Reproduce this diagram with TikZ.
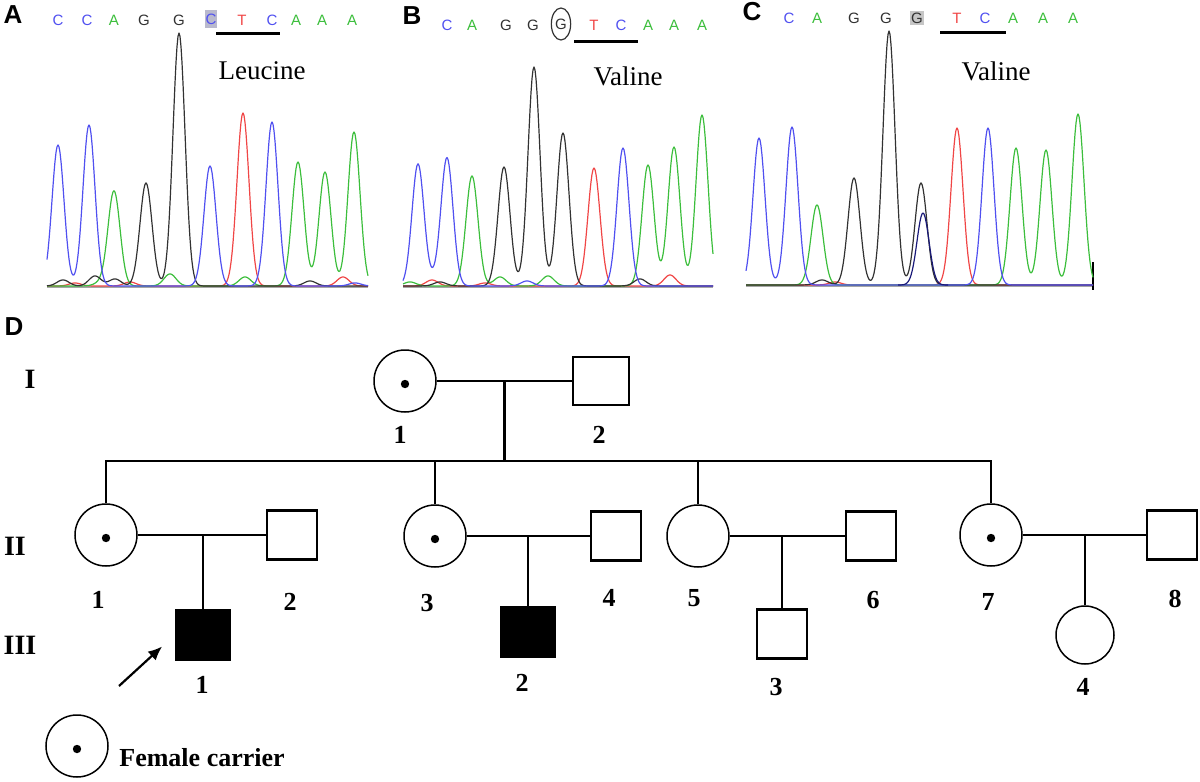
\documentclass[tikz,border=0pt]{standalone}
\usepackage{fontspec}
\setmainfont{Liberation Serif}
\newfontfamily\arialfont{Liberation Sans}
\usetikzlibrary{calc,shapes.geometric,arrows.meta}

\definecolor{seqblue}{RGB}{80,80,240}
\definecolor{seqgreen}{RGB}{60,190,60}
\definecolor{seqred}{RGB}{240,70,70}
\definecolor{seqblack}{RGB}{50,50,50}
\definecolor{seqnavy}{RGB}{25,25,120}
\definecolor{boxgrey}{RGB}{185,185,205}

\tikzset{
  declare function={pk(\p,\c,\h)=\h*exp(-min(((\p-\c)/8.5)^2,9));},
  male/.style={draw, rectangle, line width=1.35pt, inner sep=0pt, minimum width=25pt, minimum height=24.5pt},
  affected/.style={male, fill=black, minimum width=27pt},
  female/.style={draw, circle, line width=0.75pt, inner sep=0pt, minimum size=31pt},
  carrier/.style={female, path picture={\fill ([yshift=-1.5pt]path picture bounding box.center) circle (2.1pt);}},
  line/.style={line width=1.35pt},
  num/.style={font=\fontsize{13}{13}\selectfont\bfseries, inner sep=0pt},
  gen/.style={font=\fontsize{14}{14}\selectfont\bfseries, inner sep=0pt},
  panel/.style={font=\arialfont\fontsize{13}{13}\selectfont\bfseries, inner sep=0pt},
  base/.style={font=\arialfont\fontsize{7.5}{7.5}\selectfont, inner sep=0.5pt},
  amino/.style={font=\fontsize{13.5}{13.5}\selectfont, inner sep=0pt},
  trace/.style={line width=0.6pt, line join=round},
  axis/.style={gray!70, line width=0.8pt},
}

\begin{document}
\begin{tikzpicture}[x=0.5pt, y=-0.5pt]

\useasboundingbox (0,0) rectangle (1200,782);

\node[panel] (pA) at (13,15) {A};
\node[panel] (pB) at (412,16) {B};
\node[panel] (pC) at (752,12) {C};
\node[panel] (pD) at (14,327) {D};

\foreach \px/\b/\c [count=\k] in {58/C/seqblue, 87/C/seqblue, 114/A/seqgreen, 144/G/seqblack, 179/G/seqblack,
    242/T/seqred, 272/C/seqblue, 296/A/seqgreen, 322/A/seqgreen, 352/A/seqgreen}
  \node[base, text=\c] (seqa-\k) at (\px,20) {\b};
\node[base, text=seqblue, fill=boxgrey, minimum height=9pt] (seqa-mut) at (211,19) {C};

\foreach \px/\b/\c [count=\k] in {447/C/seqblue, 472/A/seqgreen, 506/G/seqblack, 533/G/seqblack,
    594/T/seqred, 621/C/seqblue, 648/A/seqgreen, 674/A/seqgreen, 702/A/seqgreen}
  \node[base, text=\c] (seqb-\k) at (\px,25) {\b};
\node[base, text=seqblack, draw=seqblack, ellipse, line width=0.6pt, minimum width=8.5pt, minimum height=16pt] (seqb-mut) at (561,24) {G};

\foreach \px/\b/\c [count=\k] in {789/C/seqblue, 817/A/seqgreen, 854/G/seqblack, 886/G/seqblack,
    957/T/seqred, 985/C/seqblue, 1013/A/seqgreen, 1043/A/seqgreen, 1073/A/seqgreen}
  \node[base, text=\c] (seqc-\k) at (\px,18) {\b};
\node[base, text=seqblack, fill=gray!45, minimum height=7pt] (seqc-mut) at (917,18) {G};

\draw[line width=1.5pt] (216,33) -- (280,33);
\draw[line width=1.5pt] (574,41) -- (638,41);
\draw[line width=1.5pt] (940,32) -- (1006,32);

\node[amino] (leu) at (262,71) {Leucine};
\node[amino] (valb) at (628,76) {Valine};
\node[amino] (valc) at (996,71) {Valine};

\draw[axis] (47,287) -- (368,287);
\draw[axis] (403,287) -- (713,287);
\draw[axis] (746,286) -- (1093,286);
\draw[line width=1pt] (1093,262) -- (1093,290);

\draw[trace, seqred] plot[domain=47:368, samples=322] (\x, {286-pk(\x,243,173)-pk(\x,343,9)-pk(\x,75,3)-pk(\x,130,4)});
\draw[trace, seqgreen] plot[domain=47:368, samples=322] (\x, {286-pk(\x,114,95)-pk(\x,298,124)-pk(\x,325,114)-pk(\x,354,154)-pk(\x,170,12)-pk(\x,245,9)-pk(\x,100,3)});
\draw[trace, seqblack] plot[domain=47:368, samples=322] (\x, {286-pk(\x,146,103)-pk(\x,179,253)-pk(\x,63,6)-pk(\x,95,10)-pk(\x,115,7)-pk(\x,310,5)});
\draw[trace, seqblue] plot[domain=47:368, samples=322] (\x, {286-pk(\x,58,141)-pk(\x,89,161)-pk(\x,210,120)-pk(\x,272,164)-pk(\x,355,3)});

\draw[trace, seqred] plot[domain=403:713, samples=311] (\x, {286-pk(\x,594,118)-pk(\x,432,6)-pk(\x,670,11)-pk(\x,485,3)});
\draw[trace, seqgreen] plot[domain=403:713, samples=311] (\x, {286-pk(\x,472,110)-pk(\x,648,121)-pk(\x,674,139)-pk(\x,702,171)-pk(\x,500,9)-pk(\x,548,10)-pk(\x,410,4)});
\draw[trace, seqblack] plot[domain=403:713, samples=311] (\x, {286-pk(\x,504,119)-pk(\x,534,219)-pk(\x,563,153)-pk(\x,640,7)-pk(\x,440,4)});
\draw[trace, seqblue] plot[domain=403:713, samples=311] (\x, {286-pk(\x,418,122)-pk(\x,447,128)-pk(\x,623,138)-pk(\x,527,5)-pk(\x,434,5)});

\draw[trace, seqred] plot[domain=746:1093, samples=348] (\x, {285-pk(\x,957,157)-pk(\x,835,3)});
\draw[trace, seqgreen] plot[domain=746:1093, samples=348] (\x, {285-pk(\x,817,80)-pk(\x,1016,137)-pk(\x,1046,135)-pk(\x,1078,171)});
\draw[trace, seqblack] plot[domain=746:1093, samples=348] (\x, {285-pk(\x,854,107)-pk(\x,889,254)-pk(\x,921,102)-pk(\x,822,5)});
\draw[trace, seqblue] plot[domain=746:1093, samples=348] (\x, {285-pk(\x,759,147)-pk(\x,792,158)-pk(\x,988,157)});
\draw[trace, seqnavy] plot[domain=898:948, samples=51] (\x, {285-pk(\x,923,72)});

\node[gen] (gI) at (30,379) {I};
\node[gen] (gII) at (15,546) {II};
\node[gen] (gIII) at (20,645) {III};

\node[carrier] (i1) at (405,381) {};
\node[male, minimum width=28pt, minimum height=24pt] (i2) at (601,381) {};
\node[carrier] (ii1) at (106,535) {};
\node[male] (ii2) at (292,535) {};
\node[carrier] (ii3) at (435,536) {};
\node[male] (ii4) at (616,536) {};
\node[female] (ii5) at (698,536) {};
\node[male] (ii6) at (871,536) {};
\node[carrier] (ii7) at (991,535) {};
\node[male] (ii8) at (1172,535) {};
\node[affected] (iii1) at (203,635) {};
\node[affected] (iii2) at (528,632) {};
\node[male] (iii3) at (782,634) {};
\node[female, minimum size=29pt] (iii4) at (1085,635) {};

\node[num] (l-i1) at (400,435) {1};
\node[num] (l-i2) at (599,435) {2};
\node[num] (l-ii1) at (98,600) {1};
\node[num] (l-ii2) at (290,602) {2};
\node[num] (l-ii3) at (427,603) {3};
\node[num] (l-ii4) at (609,598) {4};
\node[num] (l-ii5) at (694,598) {5};
\node[num] (l-ii6) at (873,600) {6};
\node[num] (l-ii7) at (988,602) {7};
\node[num] (l-ii8) at (1175,599) {8};
\node[num] (l-iii1) at (202,685) {1};
\node[num] (l-iii2) at (522,683) {2};
\node[num] (l-iii3) at (776,687) {3};
\node[num] (l-iii4) at (1083,687) {4};

\coordinate (sib) at (0,461);
\coordinate (m1) at ($(i1.east)!0.5!(i2.west)$);
\coordinate (m2) at ($(ii1.east)!0.5!(ii2.west)$);
\coordinate (m3) at ($(ii3.east)!0.5!(ii4.west)$);
\coordinate (m4) at ($(ii5.east)!0.5!(ii6.west)$);
\coordinate (m5) at ($(ii7.east)!0.5!(ii8.west)$);

\draw[line] (i1) -- (i2);
\draw[line] (m1) -- (m1 |- sib);
\draw[line] (ii1.north) |- (ii7.north |- sib) -- (ii7.north);
\draw[line] (ii3.north) -- (ii3.north |- sib);
\draw[line] (ii5.north) -- (ii5.north |- sib);

\draw[line] (ii1) -- (ii2);
\draw[line] (ii3) -- (ii4);
\draw[line] (ii5) -- (ii6);
\draw[line] (ii7) -- (ii8);
\draw[line] (iii1.north) -- (iii1.north |- m2);
\draw[line] (iii2.north) -- (iii2.north |- m3);
\draw[line] (iii3.north) -- (iii3.north |- m4);
\draw[line] (iii4.north) -- (iii4.north |- m5);

\coordinate (prob) at (119,686);
\draw[line width=1.1pt, -{Latex[length=7pt, width=6pt]}, shorten >=8.5pt] (prob) -- (iii1.west);

\node[carrier] (key) at (77,746) {};
\node[num, anchor=west] (keytext) at (119,758) {Female carrier};

\end{tikzpicture}
\end{document}
